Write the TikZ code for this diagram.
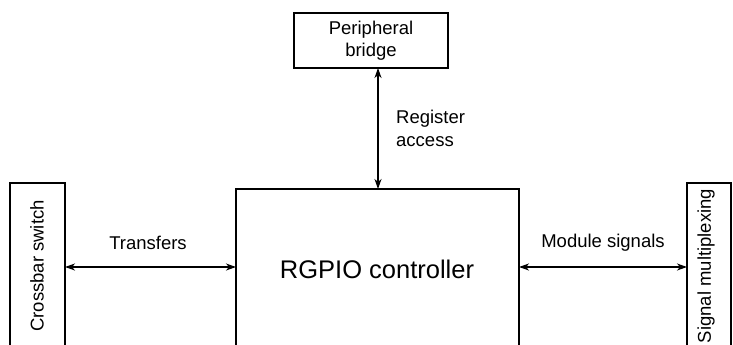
\documentclass[tikz,border=0pt]{standalone}
\usepackage{fontspec}
\setmainfont{Liberation Sans}
\usetikzlibrary{arrows.meta}
\begin{document}
\begin{tikzpicture}[x=1pt,y=-1pt,
  box/.style={draw,line width=1.2pt,anchor=north west,inner sep=0pt,outer sep=0pt},
  lbl/.style={font=\fontsize{18.5}{22.5}\selectfont,inner sep=0pt,align=center},
  arr/.style={line width=1.3pt,{Stealth[length=10pt,width=7pt,inset=3pt]}-{Stealth[length=10pt,width=7pt,inset=3pt]}}]
\useasboundingbox (0,0) rectangle (733,345);
\clip (0,0) rectangle (733,345);
\node[box,minimum width=55pt,minimum height=180pt] (cross) at (10,183) {};
\node[box,minimum width=283pt,minimum height=175pt] (rgpio) at (236,189) {};
\node[box,minimum width=44pt,minimum height=180pt] (mux) at (687,183) {};
\node[box,minimum width=154pt,minimum height=55pt,lbl] (bridge) at (294,13) {};
\node[lbl] (bridgetxt) at (371,40.5) {Peripheral\\bridge};
\node[lbl,rotate=90] (crosstxt) at (37,266) {Crossbar switch};
\node[lbl,rotate=90] (muxtxt) at (706,266) {Signal multiplexing};
\node[font=\fontsize{25.5}{30}\selectfont,inner sep=0pt] (rgpiotxt) at (377,269) {RGPIO controller};
\coordinate (ya) at (0,267);
\coordinate (xa) at (378,0);
\draw[arr] (cross.east |- ya) -- (rgpio.west |- ya);
\draw[arr] (rgpio.east |- ya) -- (mux.west |- ya);
\draw[arr] (bridge.south -| xa) -- (rgpio.north -| xa);
\node[lbl] (transfers) at (148,243) {Transfers};
\node[lbl] (modsig) at (603,243) {Module signals};
\node[lbl,align=left,anchor=west] (regacc) at (396,128.5) {Register\\access};
\end{tikzpicture}
\end{document}
